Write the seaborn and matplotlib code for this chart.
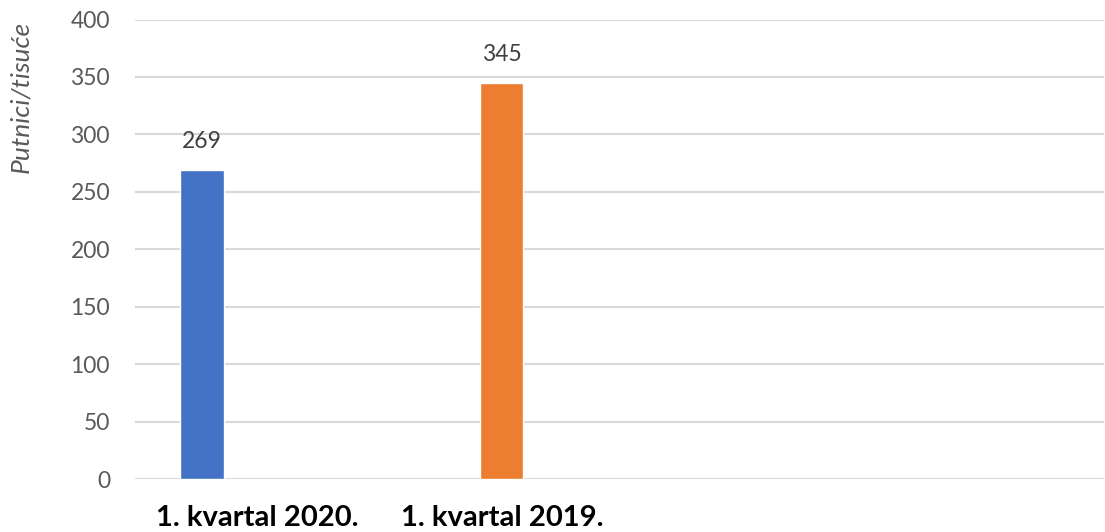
import matplotlib
matplotlib.use("Agg")
import matplotlib.pyplot as plt
import seaborn as sns
import pandas as pd

categories = ["1. kvartal 2020.", "1. kvartal 2019."]
values = [269, 345]
colors = ["#4472C4", "#ED7D31"]
y_label = "Putnici/tisuće"
y_ticks = [0, 50, 100, 150, 200, 250, 300, 350, 400]

sns.set_theme(style="white")
plt.rcParams["font.family"] = ["Lato", "DejaVu Sans"]

df = pd.DataFrame({"kategorija": categories, "putnici": values})

W, H = 1105, 532
fig = plt.figure(figsize=(W / 100, H / 100), dpi=100)
ax = fig.add_axes([135 / W, (H - 479) / H, (1104 - 135) / W, (479 - 19.5) / H])

sns.barplot(data=df, x="kategorija", y="putnici", hue="kategorija",
            palette=colors, width=0.1436, legend=False, ax=ax, saturation=1)

ax.set_ylim(0, 400)
ax.set_xlim(-0.2237, 3.0117)
ax.set_yticks(y_ticks)
ax.set_yticklabels([str(t) for t in y_ticks])
ax.tick_params(axis="y", length=0, pad=18, labelsize=16.5, labelcolor="#595959")
ax.set_xticks([])
ax.set_xlabel("")
ax.set_ylabel("")
ax.grid(axis="y", color="#d9d9d9", linewidth=1.5)
ax.set_axisbelow(True)
for s in ax.spines.values():
    s.set_visible(False)

for c in ax.containers:
    ax.bar_label(c, padding=13, fontsize=16.5, color="#404040")

fig.text(21 / W, 1 - 97 / H, y_label, rotation=90, ha="center", va="center",
         fontsize=19, style="italic", color="#595959")

label_centers = [257, 502]
for cx, lab in zip(label_centers, categories):
    fig.text(cx / W, 1 - 518 / H, lab, ha="center", va="center",
             fontsize=21, fontweight="bold", color="#000000")

fig.savefig("out.png", dpi=100)
